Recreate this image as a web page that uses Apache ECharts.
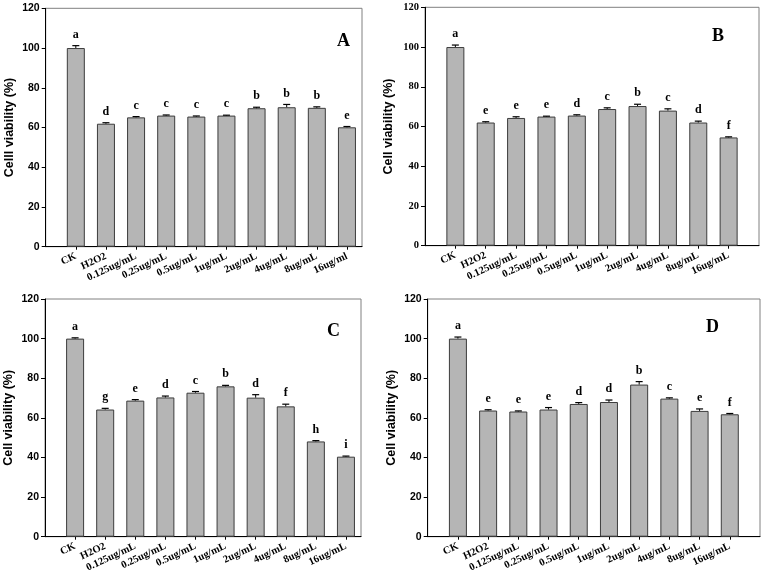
<!DOCTYPE html>
<html><head><meta charset="utf-8">
<script src="https://cdn.jsdelivr.net/npm/echarts@6/dist/echarts.min.js"></script>
<style>html,body{margin:0;padding:0;background:#fff}#c{width:763px;height:575px}</style>
</head><body><div id="c"></div>
<script>
const categories = ['CK','H2O2','0.125ug/mL','0.25ug/mL','0.5ug/mL','1ug/mL','2ug/mL','4ug/mL','8ug/mL','16ug/mL'];
const categoriesA = ['CK','H2O2','0.125ug/mL','0.25ug/mL','0.5ug/mL','1ug/mL','2ug/mL','4ug/mL','8ug/mL','16ug/ml'];
const yTicks = [0,20,40,60,80,100,120];

const valuesA = [100, 61.9, 65.1, 66.0, 65.5, 66.0, 69.7, 70.2, 69.9, 60.1];
const errorsA = [1.2, 0.5, 0.4, 0.3, 0.3, 0.2, 0.5, 1.4, 0.5, 0.4];
const lettersA = ['a','d','c','c','c','c','b','b','b','e'];

const valuesB = [100, 62.0, 64.3, 65.0, 65.5, 68.8, 70.3, 68.0, 62.0, 54.5];
const errorsB = [1.0, 0.4, 0.6, 0.2, 0.4, 0.6, 0.9, 0.9, 0.7, 0.3];
const lettersB = ['a','e','e','e','d','c','b','c','d','f'];

const valuesC = [100, 64.2, 68.7, 70.3, 72.7, 75.9, 70.2, 65.8, 48.1, 40.4];
const errorsC = [0.4, 0.6, 0.5, 0.7, 0.6, 0.5, 1.5, 1.1, 0.4, 0.3];
const lettersC = ['a','g','e','d','c','b','d','f','h','i'];

const valuesD = [100, 63.7, 63.2, 64.2, 67.0, 68.0, 76.8, 69.7, 63.5, 61.8];
const errorsD = [0.8, 0.4, 0.3, 1.0, 0.7, 1.0, 1.5, 0.4, 1.0, 0.4];
const lettersD = ['a','e','e','e','d','d','b','c','e','f'];

const panels = [
  {tag:'A', cats:categoriesA, vals:valuesA, errs:errorsA, lets:lettersA, yname:'Celll viability (%)', tickFont:'Liberation Sans',
   grid:{left:45.7, top:8.3, width:316.3, height:238.4}, xmax:9.5, tagPos:[344,42]},
  {tag:'B', cats:categories, vals:valuesB, errs:errorsB, lets:lettersB, yname:'Cell viability (%)', tickFont:'Liberation Serif',
   grid:{left:425, top:7.3, width:334, height:238.4}, xmax:10, tagPos:[719,37]},
  {tag:'C', cats:categories, vals:valuesC, errs:errorsC, lets:lettersC, yname:'Cell viability (%)', tickFont:'Liberation Sans',
   grid:{left:45, top:299, width:316, height:237.7}, xmax:9.5, tagPos:[334,332]},
  {tag:'D', cats:categories, vals:valuesD, errs:errorsD, lets:lettersD, yname:'Cell viability (%)', tickFont:'Liberation Sans',
   grid:{left:427.7, top:299, width:332.3, height:237.7}, xmax:10, tagPos:[713,328]}
];

const idx = categories.map((c,i)=>i);
const option = {animation:false, backgroundColor:'#fff', grid:[], xAxis:[], yAxis:[], series:[], graphic:[]};

panels.forEach((p,k)=>{
  option.grid.push(Object.assign({show:true, borderColor:'#808080', borderWidth:1, backgroundColor:'transparent'}, p.grid));
  option.xAxis.push({
    type:'value', gridIndex:k, min:-1, max:p.xmax,
    axisLine:{show:true, onZero:false, lineStyle:{color:'#000', width:1}},
    axisTick:{show:true, customValues:idx, length:3, lineStyle:{color:'#000'}},
    axisLabel:{customValues:idx, rotate:25, margin:9, fontFamily:'Liberation Serif', fontWeight:'bold', fontSize:10.5, color:'#000',
      formatter:(v)=>p.cats[Math.round(v)] || ''},
    splitLine:{show:false}
  });
  option.yAxis.push({
    type:'value', gridIndex:k, min:0, max:120, interval:20,
    name:p.yname, nameLocation:'middle', nameGap:30,
    nameTextStyle:{fontFamily:'Liberation Sans', fontWeight:'bold', fontSize:12.5, color:'#000'},
    axisLine:{show:true, onZero:false, lineStyle:{color:'#000', width:1}},
    axisTick:{show:true, length:4, lineStyle:{color:'#000'}},
    axisLabel:{margin:6, fontFamily:p.tickFont, fontWeight:'bold', fontSize:10.5, color:'#000',
      customValues:yTicks},
    splitLine:{show:false}
  });
  const barData = p.vals.map((v,i)=>[i,v]);
  option.series.push({
    type:'bar', xAxisIndex:k, yAxisIndex:k, data:barData, barWidth:18,
    itemStyle:{color:'#b5b5b5', borderColor:'#3c3c3c', borderWidth:1}, z:2
  });
  option.series.push({
    type:'custom', xAxisIndex:k, yAxisIndex:k, data:barData, z:5, clip:false,
    renderItem:(params, api)=>{
      const i = params.dataIndex;
      const v = p.vals[i], e = p.errs[i];
      const base = api.coord([i, v]);
      const top = api.coord([i, v + e]);
      return {type:'group', children:[
        {type:'line', shape:{x1:base[0], y1:base[1], x2:top[0], y2:top[1]}, style:{stroke:'#000', lineWidth:1}},
        {type:'line', shape:{x1:top[0]-3.5, y1:top[1], x2:top[0]+3.5, y2:top[1]}, style:{stroke:'#000', lineWidth:1.2}},
        {type:'text', x:top[0], y:top[1]-5, style:{text:p.lets[i], fill:'#000', font:'bold 12px "Liberation Serif"', textAlign:'center', textVerticalAlign:'bottom'}}
      ]};
    }
  });
  option.graphic.push({type:'text', left:p.tagPos[0]-7, top:p.tagPos[1]-10,
    style:{text:p.tag, fill:'#000', font:'bold 18px "Liberation Serif"'}});
});

const chart = echarts.init(document.getElementById('c'));
chart.setOption(option);
</script></body></html>
